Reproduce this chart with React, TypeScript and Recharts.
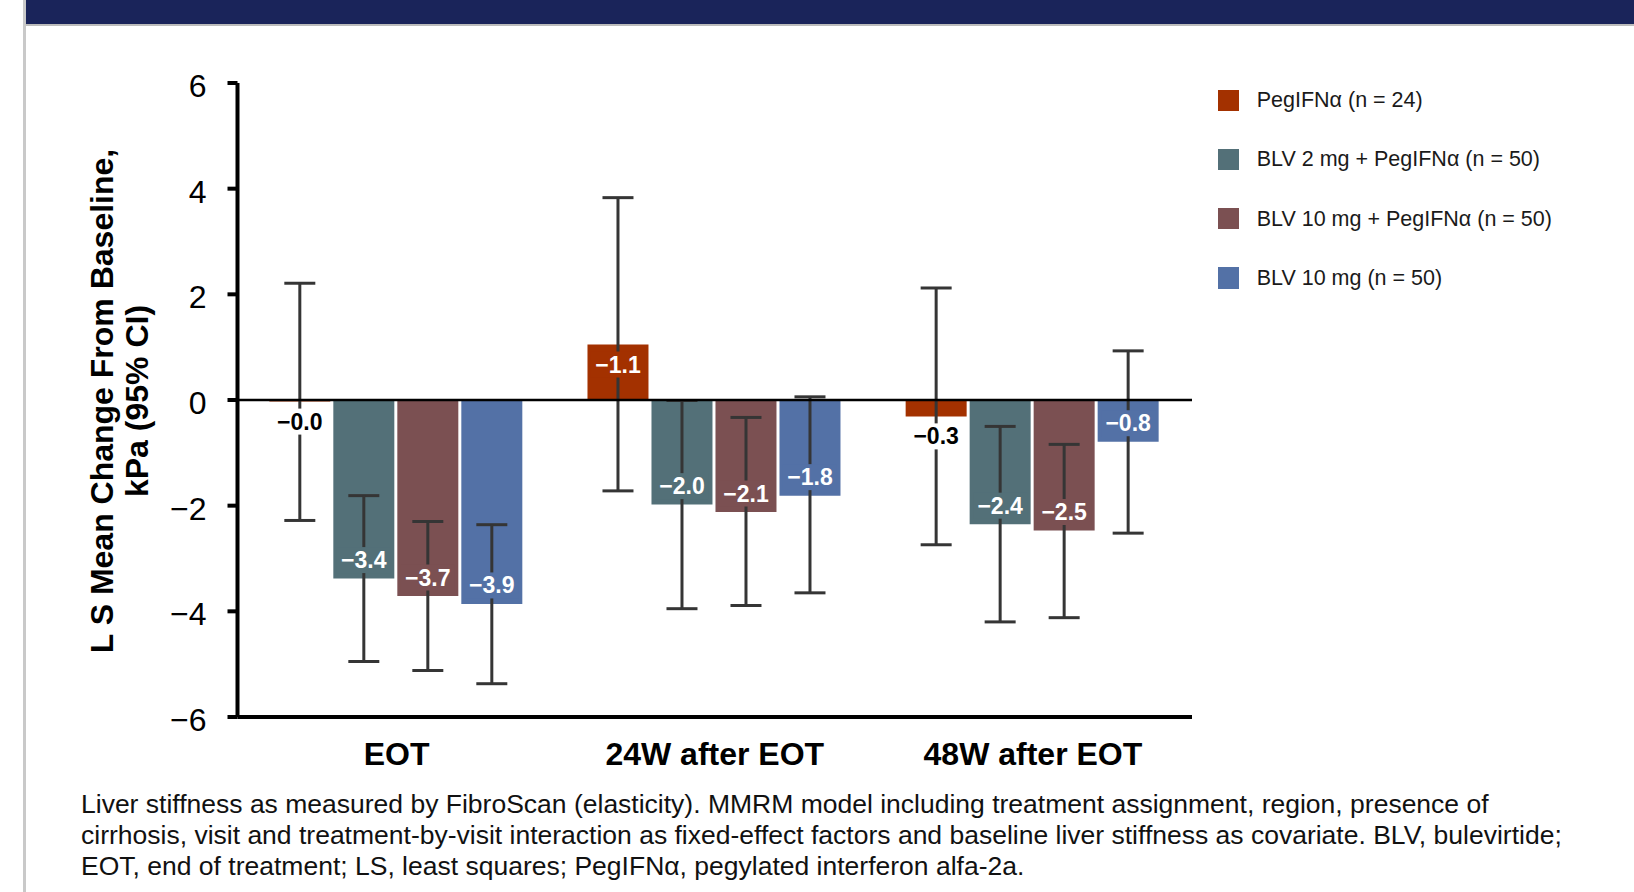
import React from 'react';
import { BarChart, Bar, XAxis, YAxis, ErrorBar, LabelList, ReferenceLine } from 'recharts';

const categories = ['EOT', '24W after EOT', '48W after EOT'];

const seriesNames = [
  'PegIFNα (n = 24)',
  'BLV 2 mg + PegIFNα (n = 50)',
  'BLV 10 mg + PegIFNα (n = 50)',
  'BLV 10 mg (n = 50)',
];
const seriesColors = ['#A33100', '#537078', '#7B5052', '#5371A6'];

const pegValues = [-0.03, 1.05, -0.31];
const pegLow = [-2.28, -1.72, -2.74];
const pegHigh = [2.21, 3.83, 2.12];
const pegLabels = ['−0.0', '−1.1', '−0.3'];

const blv2Values = [-3.38, -1.98, -2.35];
const blv2Low = [-4.95, -3.95, -4.2];
const blv2High = [-1.81, -0.01, -0.5];
const blv2Labels = ['−3.4', '−2.0', '−2.4'];

const blv10pValues = [-3.71, -2.12, -2.47];
const blv10pLow = [-5.12, -3.89, -4.12];
const blv10pHigh = [-2.3, -0.33, -0.84];
const blv10pLabels = ['−3.7', '−2.1', '−2.5'];

const blv10Values = [-3.86, -1.81, -0.79];
const blv10Low = [-5.37, -3.65, -2.52];
const blv10High = [-2.36, 0.06, 0.93];
const blv10Labels = ['−3.9', '−1.8', '−0.8'];

const yTicks = [-6, -4, -2, 0, 2, 4, 6];

const footnoteLines = [
  'Liver stiffness as measured by FibroScan (elasticity). MMRM model including treatment assignment, region, presence of',
  'cirrhosis, visit and treatment-by-visit interaction as fixed-effect factors and baseline liver stiffness as covariate. BLV, bulevirtide;',
  'EOT, end of treatment; LS, least squares; PegIFNα, pegylated interferon alfa-2a.',
];

const yLabelLines = ['L S Mean Change From Baseline,', 'kPa (95% CI)'];

const seriesValues = [pegValues, blv2Values, blv10pValues, blv10Values];
const seriesLow = [pegLow, blv2Low, blv10pLow, blv10Low];
const seriesHigh = [pegHigh, blv2High, blv10pHigh, blv10High];
const seriesLabels = [pegLabels, blv2Labels, blv10pLabels, blv10Labels];

const data = categories.map((cat, i) => {
  const row: any = { cat };
  for (let s = 0; s < 4; s++) {
    const v = seriesValues[s][i];
    row['v' + s] = v;
    row['e' + s] = [v - seriesLow[s][i], seriesHigh[s][i] - v];
    row['l' + s] = seriesLabels[s][i];
  }
  return row;
});

const FONT = "'Liberation Sans', Arial, Helvetica, sans-serif";

const makeLabel = (s: number) => (props: any) => {
  const { x, y, width, height, value, index } = props;
  const v = seriesValues[s][index];
  const top = Math.min(y, y + height);
  const bottom = Math.max(y, y + height);
  const h = bottom - top;
  const cx = x + width / 2;
  let cy: number;
  let fill: string;
  let bg: string;
  if (h < 30) {
    cy = bottom + 20;
    fill = '#000';
    bg = '#fff';
  } else if (v > 0) {
    cy = top + 20;
    fill = '#fff';
    bg = seriesColors[s];
  } else {
    cy = bottom - 18.5;
    fill = '#fff';
    bg = seriesColors[s];
  }
  return (
    <g>
      <rect x={cx - 27} y={cy - 13} width={54} height={26} fill={bg} />
      <text
        x={cx}
        y={cy}
        textAnchor="middle"
        dominantBaseline="central"
        fontFamily={FONT}
        fontWeight="bold"
        fontSize={23}
        fill={fill}
      >
        {value}
      </text>
    </g>
  );
};

const XTick = (props: any) => {
  const { x, y, payload } = props;
  return (
    <text
      x={x}
      y={y + 35}
      textAnchor="middle"
      dominantBaseline="central"
      fontFamily={FONT}
      fontWeight="bold"
      fontSize={32}
      fill="#000"
    >
      {payload.value}
    </text>
  );
};

const YTick = (props: any) => {
  const { x, y, payload } = props;
  const v = payload.value as number;
  const txt = v < 0 ? '−' + Math.abs(v) : String(v);
  return (
    <text
      x={x}
      y={y + 3}
      textAnchor="end"
      dominantBaseline="central"
      fontFamily={FONT}
      fontSize={32}
      fill="#000"
    >
      {txt}
    </text>
  );
};

export default function App() {
  return (
    <div
      style={{
        position: 'absolute',
        left: 0,
        top: 0,
        width: 1634,
        height: 892,
        background: '#fff',
        overflow: 'hidden',
        fontFamily: FONT,
      }}
    >
      <div style={{ position: 'absolute', left: 23, top: 0, width: 2.5, height: 892, background: '#c9c9c9' }} />
      <div style={{ position: 'absolute', left: 25.5, top: 0, right: 0, height: 23.5, background: '#1A245A' }} />
      <div style={{ position: 'absolute', left: 25.5, top: 23.5, right: 0, height: 2.5, background: '#bcbcbc' }} />

      <div style={{ position: 'absolute', left: 0, top: 0 }}>
        <BarChart
          width={1634}
          height={892}
          data={data}
          margin={{ top: 83, right: 442, left: 0, bottom: 115 }}
          barCategoryGap="10%"
          barGap={3}
        >
          <XAxis
            dataKey="cat"
            height={60}
            axisLine={{ stroke: '#000', strokeWidth: 4 }}
            tickLine={false}
            tickSize={0}
            tick={<XTick />}
            interval={0}
          />
          <YAxis
            width={237.5}
            domain={[-6, 6]}
            ticks={yTicks}
            type="number"
            allowDataOverflow
            tickSize={10}
            tickMargin={21}
            axisLine={{ stroke: '#000', strokeWidth: 4 }}
            tickLine={{ stroke: '#000', strokeWidth: 4 }}
            tick={<YTick />}
            interval={0}
          />
          {[0, 1, 2, 3].map((s) => (
            <Bar key={s} dataKey={'v' + s} fill={seriesColors[s]} isAnimationActive={false}>
              <ErrorBar
                dataKey={'e' + s}
                width={15.5}
                strokeWidth={3}
                stroke="#353535"
                direction="y"
                isAnimationActive={false}
              />
              <LabelList dataKey={'l' + s} content={makeLabel(s)} />
            </Bar>
          ))}
          <ReferenceLine y={0} stroke="#000" strokeWidth={2.5} ifOverflow="extendDomain" />
        </BarChart>
      </div>

      <div
        style={{
          position: 'absolute',
          left: 119.5,
          top: 401,
          transform: 'translate(-50%, -50%) rotate(-90deg)',
          whiteSpace: 'nowrap',
          textAlign: 'center',
          fontWeight: 'bold',
          fontSize: 32,
          lineHeight: '35px',
          color: '#000',
        }}
      >
        {yLabelLines.map((l, i) => (
          <div key={i}>{l}</div>
        ))}
      </div>

      {seriesNames.map((name, i) => (
        <div key={i} style={{ position: 'absolute', left: 1217.5, top: 100.3 + i * 59.2 - 10.7, height: 21.4 }}>
          <div style={{ position: 'absolute', left: 0, top: 0, width: 21.4, height: 21.4, background: seriesColors[i] }} />
          <div
            style={{
              position: 'absolute',
              left: 39.2,
              top: 10.7,
              transform: 'translateY(-50%)',
              whiteSpace: 'nowrap',
              fontSize: 21.5,
              lineHeight: '24px',
              color: '#1a1a1a',
            }}
          >
            {name}
          </div>
        </div>
      ))}

      <div style={{ position: 'absolute', left: 81, top: 789, fontSize: 26.5, lineHeight: '31px', color: '#111' }}>
        {footnoteLines.map((l, i) => (
          <div key={i} style={{ whiteSpace: 'nowrap' }}>
            {l}
          </div>
        ))}
      </div>
    </div>
  );
}
